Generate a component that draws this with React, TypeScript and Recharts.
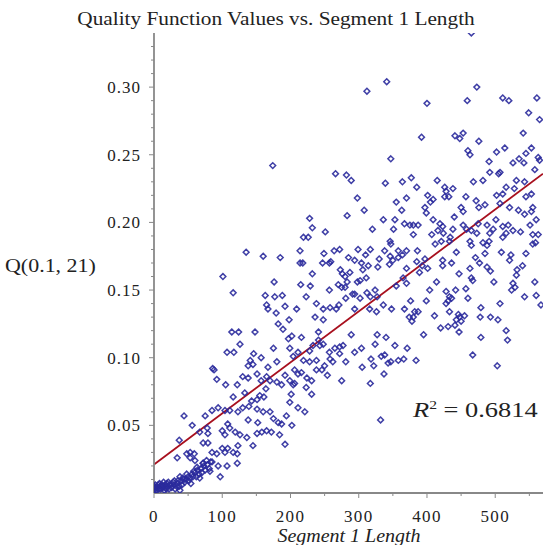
import { ScatterChart, Scatter, XAxis, YAxis, ReferenceLine } from 'recharts';

type Pt = [number, number];

// Segment 1 length vs Q(0.1, 21)
const nearOrigin: Pt[] = [
  [1, 0.003], [0, 0.005], [2, 0.002], [3, 0.004], [4, 0.002], [6, 0.006], [7, 0.003], [9, 0.005],
  [10, 0.003], [12, 0.006], [13, 0.004], [15, 0.002], [16, 0.006], [18, 0.003], [19, 0.007], [20, 0.005],
  [22, 0.003], [23, 0.006], [26, 0.004], [28, 0.008], [29, 0.006], [31, 0.003], [34, 0.007], [35, 0.009],
  [37, 0.005], [40, 0.009], [41, 0.006], [42, 0.011], [45, 0.008], [47, 0.010], [50, 0.012], [51, 0.009],
  [53, 0.011], [56, 0.014], [57, 0.012], [60, 0.015], [62, 0.012], [64, 0.017], [66, 0.014], [69, 0.018],
  [70, 0.015], [73, 0.020], [75, 0.017], [78, 0.021], [81, 0.018], [83, 0.023], [82, 0.016], [67, 0.011],
  [54, 0.007], [38, 0.002], [0, 0.004], [2, 0.006], [5, 0.004], [8, 0.007], [11, 0.005], [14, 0.008],
  [17, 0.004], [21, 0.008], [25, 0.006], [30, 0.009], [33, 0.005], [38, 0.012], [44, 0.010], [48, 0.014],
  [58, 0.016], [63, 0.019], [72, 0.022], [77, 0.024],
];

const shortSegments: Pt[] = [
  [114, 0.119], [124, 0.119], [148, 0.119], [126, 0.110], [107, 0.104], [117, 0.104], [146, 0.103], [157, 0.100],
  [141, 0.098], [145, 0.095], [138, 0.094], [167, 0.093], [86, 0.092], [88, 0.091], [92, 0.084], [105, 0.080],
  [122, 0.080], [130, 0.086], [138, 0.085], [151, 0.088], [157, 0.083], [165, 0.086], [116, 0.071], [133, 0.074],
  [143, 0.068], [151, 0.069], [161, 0.071], [94, 0.063], [85, 0.061], [75, 0.057], [104, 0.061], [111, 0.061],
  [123, 0.060], [130, 0.063], [139, 0.064], [151, 0.062], [160, 0.060], [44, 0.057], [56, 0.050], [78, 0.048],
  [67, 0.045], [79, 0.044], [108, 0.051], [111, 0.048], [100, 0.046], [104, 0.043], [119, 0.045], [126, 0.043],
  [136, 0.041], [151, 0.044], [158, 0.045], [165, 0.046], [155, 0.072], [164, 0.077], [165, 0.139], [167, 0.136],
  [37, 0.039], [53, 0.030], [59, 0.029], [48, 0.029], [72, 0.037], [79, 0.037], [85, 0.030], [92, 0.029],
  [100, 0.033], [104, 0.030], [108, 0.033], [116, 0.030], [123, 0.035], [122, 0.029], [145, 0.035], [34, 0.026],
  [53, 0.026], [60, 0.024], [72, 0.022], [85, 0.023], [94, 0.020], [107, 0.020], [122, 0.022], [97, 0.012],
  [138, 0.054], [152, 0.052], [135, 0.178], [160, 0.175], [101, 0.160], [116, 0.148], [163, 0.146],
];

const midUpper: Pt[] = [
  [174, 0.242], [347, 0.247], [266, 0.236], [282, 0.235], [289, 0.231], [339, 0.229], [298, 0.218], [355, 0.215],
  [308, 0.209], [283, 0.205], [228, 0.203], [336, 0.202], [353, 0.202], [232, 0.196], [351, 0.195], [251, 0.193],
  [320, 0.195], [219, 0.189], [226, 0.189], [346, 0.186], [347, 0.184], [214, 0.179], [264, 0.179], [272, 0.180],
  [299, 0.180], [317, 0.180], [338, 0.179], [358, 0.179], [249, 0.177], [185, 0.174], [285, 0.174], [310, 0.176],
  [330, 0.173], [346, 0.175], [350, 0.172], [358, 0.174], [247, 0.170], [257, 0.170], [259, 0.171], [214, 0.170],
  [218, 0.170], [294, 0.172], [304, 0.170], [314, 0.168], [328, 0.167], [345, 0.169], [232, 0.162], [273, 0.165],
  [276, 0.162], [280, 0.160], [287, 0.163], [306, 0.165], [298, 0.156], [302, 0.157], [311, 0.159], [176, 0.156],
  [215, 0.154], [229, 0.153], [270, 0.154], [275, 0.152], [280, 0.152], [283, 0.156], [257, 0.150], [291, 0.147],
  [294, 0.147], [312, 0.148], [324, 0.150], [355, 0.153], [177, 0.145], [188, 0.146], [223, 0.145], [238, 0.140],
  [281, 0.144], [302, 0.144], [317, 0.145], [327, 0.145], [192, 0.138], [248, 0.136], [258, 0.137], [267, 0.136],
  [271, 0.139], [294, 0.136], [316, 0.136], [326, 0.134], [336, 0.139], [179, 0.133], [236, 0.130], [248, 0.128],
  [182, 0.125], [189, 0.121], [348, 0.136], [209, 0.136], [198, 0.128], [312, 0.297], [341, 0.304],
];

const midLower: Pt[] = [
  [202, 0.116], [197, 0.114], [216, 0.115], [241, 0.119], [241, 0.113], [243, 0.109], [248, 0.110], [289, 0.117],
  [327, 0.117], [340, 0.115], [175, 0.107], [199, 0.107], [211, 0.104], [233, 0.109], [228, 0.105], [257, 0.104],
  [265, 0.107], [272, 0.108], [277, 0.109], [294, 0.104], [304, 0.107], [324, 0.110], [353, 0.109], [180, 0.097],
  [204, 0.101], [219, 0.098], [228, 0.097], [238, 0.098], [258, 0.099], [262, 0.097], [272, 0.103], [281, 0.097],
  [305, 0.093], [318, 0.099], [322, 0.094], [333, 0.101], [338, 0.102], [343, 0.096], [347, 0.097], [358, 0.098],
  [192, 0.087], [206, 0.091], [211, 0.088], [216, 0.089], [238, 0.091], [246, 0.091], [250, 0.094], [170, 0.083],
  [180, 0.082], [187, 0.080], [199, 0.083], [204, 0.080], [206, 0.081], [224, 0.085], [231, 0.083], [223, 0.078],
  [254, 0.087], [275, 0.083], [337, 0.088], [317, 0.081], [201, 0.073], [231, 0.073], [199, 0.067], [211, 0.063],
  [221, 0.060], [170, 0.060], [175, 0.055], [182, 0.052], [187, 0.051], [194, 0.057], [172, 0.045], [184, 0.043],
  [192, 0.036], [332, 0.054], [202, 0.050],
];

const longUpper: Pt[] = [
  [465, 0.340], [473, 0.300], [400, 0.288], [459, 0.290], [511, 0.292], [520, 0.290], [561, 0.292], [549, 0.281],
  [565, 0.276], [392, 0.263], [441, 0.264], [448, 0.262], [453, 0.266], [476, 0.260], [541, 0.266], [460, 0.253],
  [463, 0.250], [502, 0.252], [514, 0.255], [545, 0.251], [553, 0.255], [563, 0.248], [565, 0.246], [491, 0.245],
  [526, 0.244], [535, 0.247], [542, 0.244], [492, 0.237], [505, 0.236], [507, 0.237], [377, 0.233], [364, 0.230],
  [415, 0.231], [468, 0.230], [482, 0.231], [531, 0.231], [543, 0.230], [558, 0.239], [385, 0.226], [426, 0.226],
  [438, 0.225], [428, 0.223], [432, 0.219], [426, 0.219], [370, 0.218], [401, 0.220], [409, 0.217], [405, 0.215],
  [397, 0.211], [399, 0.207], [457, 0.219], [472, 0.216], [476, 0.211], [485, 0.213], [502, 0.220], [511, 0.221],
  [516, 0.226], [528, 0.225], [545, 0.219], [553, 0.221], [363, 0.209], [450, 0.211], [453, 0.208], [440, 0.204],
  [507, 0.214], [521, 0.211], [534, 0.209], [543, 0.206], [553, 0.208], [555, 0.211], [560, 0.202], [367, 0.199],
  [375, 0.198], [380, 0.198], [387, 0.198], [380, 0.191], [409, 0.202], [419, 0.199], [416, 0.194], [423, 0.197],
  [424, 0.192], [407, 0.191], [412, 0.184], [438, 0.195], [434, 0.189], [453, 0.198], [458, 0.195], [475, 0.199],
  [465, 0.194], [473, 0.192], [488, 0.198], [501, 0.202], [497, 0.195], [492, 0.192], [511, 0.197], [519, 0.198],
  [526, 0.194], [537, 0.193], [551, 0.198], [555, 0.191], [559, 0.185], [516, 0.192], [511, 0.189], [482, 0.185],
  [488, 0.183], [491, 0.186], [463, 0.186], [465, 0.183], [421, 0.186], [433, 0.186], [370, 0.179], [386, 0.179],
  [364, 0.176], [443, 0.178], [471, 0.174], [485, 0.177], [509, 0.178], [523, 0.176], [545, 0.177], [555, 0.184],
  [563, 0.191], [397, 0.173],
];

const longLower: Pt[] = [
  [385, 0.171], [393, 0.168], [370, 0.166], [389, 0.163], [401, 0.166], [423, 0.172], [436, 0.170], [423, 0.168],
  [477, 0.170], [463, 0.166], [447, 0.162], [465, 0.159], [467, 0.157], [488, 0.167], [493, 0.164], [521, 0.172],
  [540, 0.168], [532, 0.165], [531, 0.161], [526, 0.155], [529, 0.152], [524, 0.150], [498, 0.156], [558, 0.156],
  [560, 0.146], [567, 0.139], [543, 0.145], [365, 0.159], [370, 0.155], [414, 0.156], [404, 0.150], [428, 0.149],
  [442, 0.150], [457, 0.151], [431, 0.142], [433, 0.145], [428, 0.140], [436, 0.144], [460, 0.144], [399, 0.142],
  [376, 0.142], [479, 0.137], [507, 0.140], [367, 0.136], [382, 0.134], [387, 0.134], [380, 0.130], [374, 0.130],
  [378, 0.127], [411, 0.131], [433, 0.134], [446, 0.132], [448, 0.130], [455, 0.131], [443, 0.128], [450, 0.127],
  [478, 0.130], [493, 0.130], [504, 0.128], [420, 0.122], [431, 0.123], [441, 0.124], [447, 0.119], [395, 0.117],
  [516, 0.120], [518, 0.113], [479, 0.115], [371, 0.107], [366, 0.099], [384, 0.098], [467, 0.102], [503, 0.094],
];

// least-squares line shown in the plot (R^2 = 0.6814)
const FIT_INTERCEPT = 0.0211;
const FIT_SLOPE = 0.000377;
const X_MAX = 570;
const Y_MAX = 0.34;

const X_TICKS = [0, 50, 100, 150, 200, 250, 300, 350, 400, 450, 500, 550];
const X_LABELED = [0, 100, 200, 300, 400, 500];
const Y_TICKS = [
  0.01, 0.02, 0.03, 0.04, 0.05, 0.06, 0.07, 0.08, 0.09, 0.1, 0.11, 0.12, 0.13, 0.14, 0.15, 0.16, 0.17,
  0.18, 0.19, 0.2, 0.21, 0.22, 0.23, 0.24, 0.25, 0.26, 0.27, 0.28, 0.29, 0.3, 0.31, 0.32, 0.33,
];
const Y_LABELED = [0.05, 0.1, 0.15, 0.2, 0.25, 0.3];

const SERIF = "'Liberation Serif', 'DejaVu Serif', serif";
const TEXT = '#222';
const points = [...nearOrigin, ...shortSegments, ...midUpper, ...midLower, ...longUpper, ...longLower].map(
  ([x, y]) => ({ x, y })
);

function Diamond(props: any) {
  const { cx, cy } = props;
  const r = 2.9;
  return (
    <path
      d={`M${cx},${cy - r}L${cx + r},${cy}L${cx},${cy + r}L${cx - r},${cy}Z`}
      fill="none"
      stroke="#2a2a9c"
      strokeWidth={1.5}
      strokeOpacity={0.9}
    />
  );
}

function XTick(props: any) {
  const { x, y, payload } = props;
  const major = X_LABELED.includes(payload.value);
  return (
    <g>
      <line x1={x} x2={x} y1={y} y2={y + (major ? 5 : 3)} stroke="#888" strokeWidth={1} />
      {major && (
        <text x={x} y={y + 29} textAnchor="middle" fontFamily={SERIF} fontSize={17} letterSpacing={1.4} fill={TEXT}>
          {payload.value}
        </text>
      )}
    </g>
  );
}

function YTick(props: any) {
  const { x, y, payload } = props;
  const major = Y_LABELED.some((v) => Math.abs(v - payload.value) < 1e-9);
  return (
    <g>
      <line x1={x - (major ? 5 : 3)} x2={x} y1={y} y2={y} stroke="#888" strokeWidth={1} />
      {major && (
        <text x={x - 13} y={y + 6} textAnchor="end" fontFamily={SERIF} fontSize={17} letterSpacing={1} fill={TEXT}>
          {payload.value.toFixed(2)}
        </text>
      )}
    </g>
  );
}

export default function App() {
  return (
    <div style={{ position: 'absolute', left: 0, top: 0, width: 543, height: 545, background: '#fff', overflow: 'hidden' }}>
      <div
        style={{
          position: 'absolute', left: 0, width: 552, top: 8, textAlign: 'center', fontFamily: SERIF,
          fontSize: 19, color: TEXT, transform: 'scaleX(1.12)', transformOrigin: '276px 0', whiteSpace: 'nowrap',
        }}
      >
        Quality Function Values vs. Segment 1 Length
      </div>
      <div
        style={{
          position: 'absolute', left: 5, top: 256, fontFamily: SERIF, fontSize: 18, color: TEXT,
          transform: 'scaleX(1.22)', transformOrigin: '0 0', whiteSpace: 'nowrap',
        }}
      >
        Q(0.1, 21)
      </div>
      <div
        style={{
          position: 'absolute', left: 249, width: 200, top: 526, textAlign: 'center', fontFamily: SERIF,
          fontStyle: 'italic', fontSize: 18, color: TEXT, transform: 'scaleX(1.11)', transformOrigin: '100px 0',
          whiteSpace: 'nowrap',
        }}
      >
        Segment 1 Length
      </div>
      <div
        style={{
          position: 'absolute', left: 413, top: 397, fontFamily: SERIF, fontSize: 22, color: TEXT,
          whiteSpace: 'nowrap', transform: 'scaleX(1.2)', transformOrigin: '0 0',
        }}
      >
        <i>R</i>
        <sup style={{ fontSize: 13 }}>2</sup> = 0.6814
      </div>
      <ScatterChart width={543} height={545} margin={{ top: 33, right: 0, bottom: 0, left: 0 }}>
        <XAxis
          type="number"
          dataKey="x"
          domain={[0, X_MAX]}
          ticks={X_TICKS}
          interval={0}
          height={52}
          tickSize={0}
          tickMargin={0}
          tick={<XTick />}
          axisLine={{ stroke: '#888', strokeWidth: 1.8 }}
          allowDataOverflow
        />
        <YAxis
          type="number"
          dataKey="y"
          domain={[0, Y_MAX]}
          ticks={Y_TICKS}
          interval={0}
          width={154}
          tickSize={0}
          tickMargin={0}
          tick={<YTick />}
          axisLine={{ stroke: '#888', strokeWidth: 1.8 }}
          allowDataOverflow
        />
        <Scatter data={points} shape={<Diamond />} isAnimationActive={false} />
        <ReferenceLine
          segment={[
            { x: 0, y: FIT_INTERCEPT },
            { x: X_MAX, y: FIT_INTERCEPT + FIT_SLOPE * X_MAX },
          ]}
          stroke="#a8101e"
          strokeWidth={1.8}
        />
      </ScatterChart>
    </div>
  );
}
